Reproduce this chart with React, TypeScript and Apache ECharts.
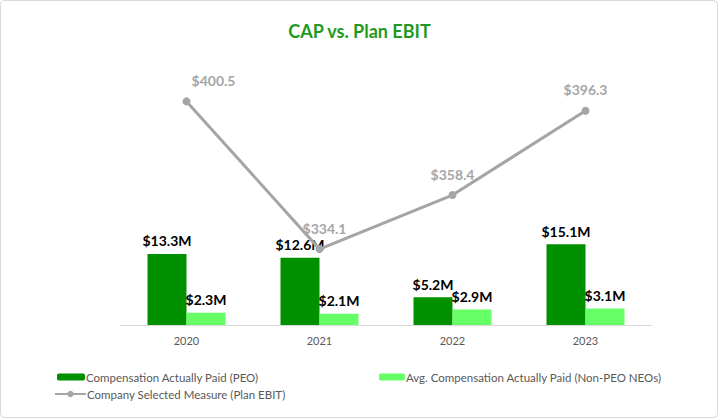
import React, { useEffect, useRef } from "react";
import * as echarts from "echarts";

const categories = ["2020", "2021", "2022", "2023"];
const peoValues = [13.3, 12.6, 5.2, 15.1];
const neoValues = [2.3, 2.1, 2.9, 3.1];
const ebitValues = [400.5, 334.1, 358.4, 396.3];
const seriesNames = [
  "Compensation Actually Paid (PEO)",
  "Avg. Compensation Actually Paid (Non-PEO NEOs)",
  "Company Selected Measure (Plan EBIT)",
];
const title = "CAP vs. Plan EBIT";

export default function App() {
  const ref = useRef<HTMLDivElement>(null);
  useEffect(() => {
    const chart = echarts.init(ref.current!, null, { renderer: "svg" });
    const font = "Lato, 'Open Sans', sans-serif";
    const lineOffsets = [[27, 0], [5, 0], [0, 0], [0, 0]];
    const legendText = { color: "#595959", fontSize: 11.5, padding: [0, 0, 0, -4] };
    chart.setOption({
      animation: false,
      textStyle: { fontFamily: font },
      title: {
        text: title,
        left: "center",
        top: 17,
        textStyle: { color: "#1f9a1f", fontSize: 18, fontWeight: "bold", fontFamily: font },
      },
      graphic: [
        {
          type: "rect",
          shape: { x: 0.5, y: 0.5, width: 717, height: 417, r: 4 },
          style: { fill: "none", stroke: "#d9d9d9", lineWidth: 1 },
          silent: true,
        },
      ],
      grid: { left: 120, right: 67, top: 58, bottom: 94 },
      xAxis: {
        type: "category",
        data: categories,
        axisLine: { lineStyle: { color: "#d9d9d9" } },
        axisTick: { show: false },
        axisLabel: { color: "#595959", fontSize: 11, margin: 10 },
      },
      yAxis: [
        { type: "value", min: 0, max: 50, show: false, splitLine: { show: false } },
        { type: "value", min: 300, max: 420, show: false, splitLine: { show: false } },
      ],
      legend: [
        {
          data: [seriesNames[0]],
          left: 52,
          top: 366,
          itemWidth: 28,
          itemHeight: 7,
          textStyle: legendText,
        },
        {
          data: [seriesNames[1]],
          left: 374,
          top: 366,
          itemWidth: 26,
          itemHeight: 7,
          textStyle: legendText,
        },
        {
          data: [seriesNames[2]],
          left: 49,
          top: 383,
          itemWidth: 31,
          itemHeight: 8,
          textStyle: legendText,
        },
      ],
      series: [
        {
          name: seriesNames[0],
          type: "bar",
          data: peoValues,
          barWidth: 39,
          barGap: "0%",
          itemStyle: { color: "#009000" },
          label: {
            show: true,
            position: "top",
            distance: 6,
            formatter: (p: any) => `$${p.value.toFixed(1)}M`,
            color: "#000",
            fontWeight: "bold",
            fontSize: 14,
          },
        },
        {
          name: seriesNames[1],
          type: "bar",
          data: neoValues,
          barWidth: 39,
          barGap: "0%",
          itemStyle: { color: "#66ff66" },
          label: {
            show: true,
            position: "top",
            distance: 6,
            formatter: (p: any) => `$${p.value.toFixed(1)}M`,
            color: "#000",
            fontWeight: "bold",
            fontSize: 14,
          },
        },
        {
          name: seriesNames[2],
          type: "line",
          yAxisIndex: 1,
          data: ebitValues.map((v, i) => ({
            value: v,
            label: { offset: lineOffsets[i] },
          })),
          symbol: "circle",
          symbolSize: 8,
          lineStyle: { color: "#a5a5a5", width: 3 },
          itemStyle: { color: "#a5a5a5" },
          z: 5,
          label: {
            show: true,
            position: "top",
            distance: 10,
            formatter: (p: any) => `$${p.value.toFixed(1)}`,
            color: "#a6a6a6",
            fontWeight: "bold",
            fontSize: 14,
          },
        },
      ],
    });
    return () => chart.dispose();
  }, []);
  return (
    <div
      ref={ref}
      style={{ position: "absolute", left: 0, top: 0, width: 719, height: 419, background: "#fff" }}
    />
  );
}
